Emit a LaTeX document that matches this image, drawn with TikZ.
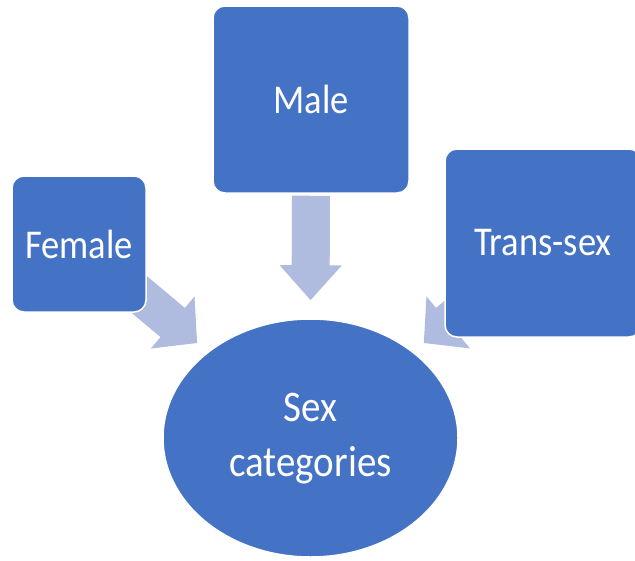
\documentclass[tikz,border=0pt]{standalone}
\usepackage{fontspec}
\usepackage{graphicx}
\setmainfont{Carlito}
\usetikzlibrary{shapes.geometric,arrows.meta}
\pgfdeclarelayer{back}
\pgfsetlayers{back,main}
\definecolor{boxblue}{RGB}{68,114,196}
\definecolor{arrowblue}{RGB}{175,188,223}
% slightly condensed, taller lettering
\newcommand{\tallword}[1]{\scalebox{1}[1.12]{#1}}
\begin{document}
\begin{tikzpicture}[x=1pt,y=-1pt,
  catbox/.style={rectangle, rounded corners=12pt, fill=boxblue, draw=white,
    line width=1.5pt, text=white, inner sep=0pt,
    font=\fontsize{36.5}{44}\selectfont},
  hub/.style={ellipse, fill=boxblue, draw=white, line width=1.5pt,
    text=white, inner sep=0pt,
    font=\fontsize{39}{48.5}\selectfont},
  flow/.style={draw=arrowblue, line width=38pt}]
  \clip (0,0) rectangle (635,560);

  % category boxes and the central ellipse
  \node[catbox, minimum width=196pt, minimum height=187pt] (male) at (311,99.5) {\tallword{Male}};
  \node[catbox, minimum width=134pt, minimum height=136pt] (female) at (79,244) {\tallword{Female}};
  \node[catbox, minimum width=196pt, minimum height=188pt] (trans) at (543,243) {\tallword{Trans-sex}};
  \node[hub, minimum width=295pt, minimum height=238pt] (cat) at (310.5,438)
    {\tallword{\begin{tabular}{@{}c@{}}Sex\\categories\end{tabular}}};

  % block arrows behind the boxes
  \begin{pgfonlayer}{back}
    \draw[flow, -{Triangle[width=60pt,length=35pt]}, shorten <=2pt, shorten >=18pt]
      (male.south) -- (cat.north);
    \draw[flow, -{Triangle[width=66pt,length=32pt]}, shorten >=13.6pt]
      (female.center) -- (cat);
    \draw[flow, -{Triangle[width=66pt,length=32pt]}, shorten >=13.6pt]
      (trans.center) -- (cat);
  \end{pgfonlayer}
\end{tikzpicture}
\end{document}
